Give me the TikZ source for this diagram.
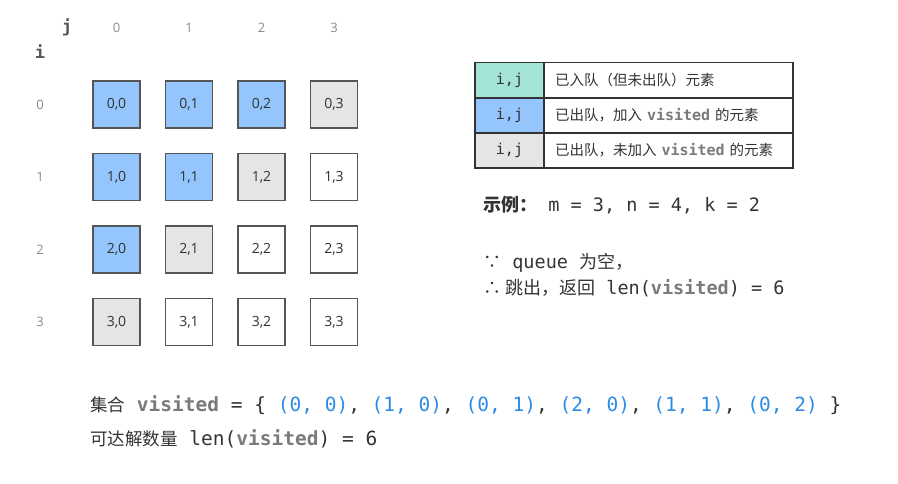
\documentclass[tikz,border=0pt]{standalone}
\usepackage{fontspec}
\setmainfont{Open Sans}
\setmonofont{DejaVu Sans Mono}
\newfontfamily\cjk{Noto Sans CJK SC}
\usepackage{xcolor}
\usepackage{tikz}
\definecolor{qteal}{HTML}{A3E4D7}
\definecolor{qblue}{HTML}{94C5FD}
\definecolor{qgray}{HTML}{E5E5E5}
\definecolor{qline}{HTML}{555555}
\definecolor{qtext}{HTML}{333333}
\definecolor{qaxis}{HTML}{8A8A8A}
\definecolor{qcoord}{HTML}{2B8AE6}
\definecolor{qvis}{HTML}{7A7A7A}
\tikzset{
    every node/.style={font=\fontsize{14}{16}\selectfont, text=qtext},
    cell/.style={draw=qline, line width=1.4pt, minimum size=47pt, inner sep=0pt},
    axis/.style={text=qaxis, font=\fontsize{13}{15}\selectfont},
    ijlabel/.style={text=qline, font=\ttfamily\bfseries\fontsize{17}{20}\selectfont},
    keybox/.style={draw=qtext, line width=1.1pt, minimum width=69pt, minimum height=35pt, inner sep=0pt, font=\ttfamily\fontsize{15}{17}\selectfont},
    descbox/.style={draw=qtext, line width=1.1pt, minimum height=35pt, text width=227pt, inner xsep=11pt, inner ysep=0pt, align=left, font=\ttfamily\fontsize{15}{17}\selectfont},
    noteline/.style={anchor=base west, inner sep=0pt, font=\ttfamily\fontsize{18.5}{22}\selectfont},
    codeline/.style={anchor=base west, inner sep=0pt, font=\ttfamily\fontsize{19.5}{22}\selectfont}
}
\newcommand{\zh}[2]{{\cjk\fontsize{#1}{#1}\selectfont #2}}
\newcommand{\vis}{\textcolor{qvis}{\bfseries visited}}
\newcommand{\crd}[1]{\textcolor{qcoord}{(#1)}}

\begin{document}
\begin{tikzpicture}[x=1pt, y=-1pt]
    \useasboundingbox (0,0) rectangle (898,483);

    % axes
    \node[ijlabel] (jlab) at (67,27) {j};
    \node[ijlabel] (ilab) at (40,52) {i};
    \node[axis] (col0) at (116.5,28) {0};
    \node[axis] (col1) at (189,28) {1};
    \node[axis] (col2) at (261.5,28) {2};
    \node[axis] (col3) at (334,28) {3};
    \node[axis] (row0) at (40,104.5) {0};
    \node[axis] (row1) at (40,177) {1};
    \node[axis] (row2) at (40,249.5) {2};
    \node[axis] (row3) at (40,322) {3};

    % grid
    \node[cell, fill=qblue] (c00) at (116.5,104.5) {0,0};
    \node[cell, fill=qblue] (c01) at (189,104.5) {0,1};
    \node[cell, fill=qblue] (c02) at (261.5,104.5) {0,2};
    \node[cell, fill=qgray] (c03) at (334,104.5) {0,3};
    \node[cell, fill=qblue] (c10) at (116.5,177) {1,0};
    \node[cell, fill=qblue] (c11) at (189,177) {1,1};
    \node[cell, fill=qgray] (c12) at (261.5,177) {1,2};
    \node[cell, fill=white] (c13) at (334,177) {1,3};
    \node[cell, fill=qblue] (c20) at (116.5,249.5) {2,0};
    \node[cell, fill=qgray] (c21) at (189,249.5) {2,1};
    \node[cell, fill=white] (c22) at (261.5,249.5) {2,2};
    \node[cell, fill=white] (c23) at (334,249.5) {2,3};
    \node[cell, fill=qgray] (c30) at (116.5,322) {3,0};
    \node[cell, fill=white] (c31) at (189,322) {3,1};
    \node[cell, fill=white] (c32) at (261.5,322) {3,2};
    \node[cell, fill=white] (c33) at (334,322) {3,3};

    % legend
    \node[keybox, fill=qteal] (key1) at (509.5,80) {i,j};
    \node[keybox, fill=qblue] (key2) at (509.5,115.5) {i,j};
    \node[keybox, fill=qgray] (key3) at (509.5,150.5) {i,j};
    \node[descbox] (desc1) at (668.5,80) {\zh{14.5}{已入队（但未出队）元素}};
    \node[descbox] (desc2) at (668.5,115.5) {\zh{14.5}{已出队，加入} \vis{} \zh{14.5}{的元素}};
    \node[descbox] (desc3) at (668.5,150.5) {\zh{14.5}{已出队，未加入} \vis{} \zh{14.5}{的元素}};

    % example
    \node[noteline] (example) at (483,211) {\zh{18}{\bfseries 示例：} m = 3, n = 4, k = 2};
    \node[noteline] (because) at (483,268) {\zh{18}{∵} queue \zh{18}{为空，}};
    \node[noteline] (therefore) at (483,294) {\zh{18}{∴ 跳出，返回} len(\vis) = 6};

    % result
    \node[codeline] (result) at (90,411) {\zh{17.5}{集合} \vis{} = \{ \crd{0, 0}, \crd{1, 0}, \crd{0, 1}, \crd{2, 0}, \crd{1, 1}, \crd{0, 2} \}};
    \node[codeline] (count) at (90,445) {\zh{17.5}{可达解数量} len(\vis) = 6};
\end{tikzpicture}
\end{document}
